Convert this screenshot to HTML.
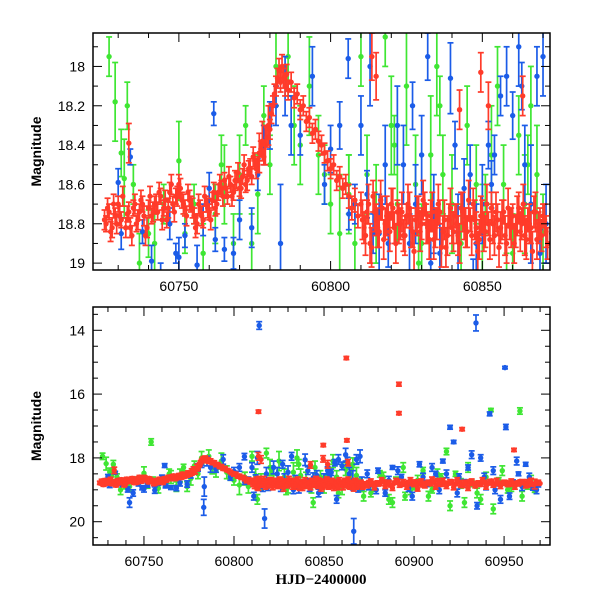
<!DOCTYPE html>
<html><head><meta charset="utf-8"><style>
html,body{margin:0;padding:0;background:#fff;}
svg{display:block;font-family:"Liberation Sans",sans-serif;}
text{fill:#000;}
</style></head><body>
<svg id="chart" width="600" height="600" viewBox="0 0 600 600">
<defs>
<clipPath id="clipTop"><rect x="93" y="33" width="457" height="237"/></clipPath>
<clipPath id="clipBot"><rect x="93" y="307" width="457" height="238"/></clipPath>
</defs>
<g id="top"></g>
<g id="bot"></g>
</svg>
<script>
const redT=[60726,60727,60728,60729,60730,60731,60733.5,60733,60734,60735,60736,60737,60738,60739,60740,60741,60742,60743,60744,60745,60746,60747,60748,60749,60750,60751,60752,60753,60754,60755,60756,60757,60758,60759,60760,60761,60762,60763,60764,60765,60766,60767,60768,60769,60770,60771,60772,60773,60774,60775,60776,60777,60778,60779,60780,60780.5,60781,60781.5,60782,60782.5,60783,60783.5,60784,60784.5,60785,60785.5,60786,60787,60788,60789,60790,60791,60792,60793,60794,60795,60796,60797,60798,60799,60800,60801,60802,60803,60804,60805,60806,60807,60808,60809,60810,60811,60812,60813,60814,60815,60816,60817,60818,60819,60820,60821,60822,60823,60824,60825,60826,60827,60828,60829,60830,60831,60832,60833,60834,60835,60836,60837,60838,60839,60840,60841,60842,60843,60844,60845,60846,60847,60848,60849,60850,60851,60852,60853,60854,60855,60856,60857,60858,60859,60860,60861,60862,60863,60864,60865,60866,60867,60868,60869,60870,60871,60813.6,60815,60842.5,60849.5,60852,60863.3,60873,60875,60877,60879,60881,60883,60885,60887,60889,60891,60893,60895,60897,60899,60901,60903,60905,60907,60909,60911,60913,60915,60917,60919,60921,60923,60925,60927,60929,60931,60933,60935,60937,60939,60941,60943,60945,60947,60949,60951,60953,60955,60957,60959,60961,60963,60965,60967,60969,60813.6,60862.4,60891.6,60891.6,60926.7,60955.5,60862.7,60849.6];
const redM=[18.80,18.74,18.82,18.76,18.70,18.78,18.39,18.75,18.82,18.72,18.80,18.74,18.70,18.86,18.72,18.76,18.70,18.74,18.66,18.72,18.78,18.64,18.70,18.66,18.60,18.68,18.72,18.64,18.70,18.76,18.80,18.72,18.78,18.70,18.74,18.68,18.72,18.64,18.62,18.58,18.66,18.60,18.64,18.58,18.62,18.56,18.60,18.52,18.56,18.48,18.50,18.42,18.46,18.36,18.32,18.24,18.20,18.14,18.10,18.06,18.02,18.08,18.00,18.06,18.10,18.04,18.12,18.08,18.16,18.14,18.22,18.20,18.28,18.26,18.34,18.32,18.38,18.40,18.44,18.48,18.52,18.50,18.58,18.56,18.62,18.60,18.66,18.72,18.68,18.76,18.70,18.82,18.74,18.90,18.66,18.78,18.84,18.72,18.80,18.76,18.70,18.82,18.74,18.80,18.86,18.76,18.72,18.84,18.78,18.74,18.80,18.70,18.82,18.76,18.88,18.80,18.74,18.84,18.92,18.78,18.82,18.76,18.86,18.72,18.80,18.84,18.78,18.70,18.82,18.88,18.76,18.84,18.80,18.72,18.86,18.78,18.82,18.74,18.90,18.80,18.76,18.84,18.72,18.80,18.86,18.78,18.82,18.74,18.88,18.80,18.76,18.84,17.95,18.05,18.22,18.03,18.20,18.15,18.80,18.76,18.84,18.78,18.82,18.74,18.80,18.86,18.78,18.72,18.84,18.80,18.76,18.82,18.74,18.80,18.86,18.78,18.82,18.76,18.70,18.84,18.78,18.80,18.74,18.82,18.76,18.88,18.80,18.74,18.82,18.78,18.84,18.76,18.80,18.72,18.82,18.78,18.80,18.76,18.84,18.78,18.80,18.74,18.78,18.80,18.76,18.82,18.78,16.55,14.87,15.69,16.60,17.10,17.75,17.45,17.60];
const redE=[0.04,0.04,0.05,0.04,0.04,0.04,0.1,0.04,0.05,0.04,0.04,0.04,0.04,0.05,0.04,0.04,0.04,0.04,0.04,0.04,0.04,0.05,0.04,0.04,0.05,0.04,0.04,0.04,0.04,0.04,0.05,0.04,0.04,0.04,0.04,0.04,0.04,0.04,0.04,0.04,0.04,0.04,0.04,0.04,0.04,0.04,0.04,0.04,0.04,0.04,0.04,0.04,0.04,0.05,0.05,0.05,0.05,0.05,0.05,0.05,0.06,0.05,0.06,0.05,0.05,0.05,0.05,0.05,0.05,0.05,0.05,0.05,0.05,0.05,0.05,0.05,0.05,0.05,0.05,0.05,0.05,0.05,0.05,0.05,0.05,0.05,0.06,0.06,0.06,0.06,0.06,0.08,0.06,0.1,0.08,0.08,0.08,0.06,0.08,0.06,0.08,0.08,0.06,0.08,0.08,0.06,0.08,0.08,0.06,0.08,0.08,0.06,0.08,0.08,0.1,0.08,0.06,0.08,0.1,0.08,0.08,0.06,0.1,0.08,0.08,0.08,0.06,0.08,0.08,0.1,0.08,0.08,0.06,0.08,0.1,0.08,0.08,0.06,0.1,0.08,0.06,0.08,0.08,0.08,0.1,0.06,0.08,0.08,0.1,0.08,0.06,0.08,0.12,0.12,0.1,0.1,0.12,0.1,0.05,0.05,0.05,0.05,0.05,0.05,0.05,0.05,0.05,0.05,0.05,0.05,0.05,0.05,0.05,0.05,0.05,0.05,0.05,0.05,0.05,0.05,0.05,0.05,0.05,0.05,0.05,0.05,0.05,0.05,0.05,0.05,0.05,0.05,0.05,0.05,0.05,0.05,0.05,0.05,0.05,0.05,0.05,0.05,0.05,0.12,0.12,0.15,0.08,0.05,0.05,0.06,0.05];

const redLateT=[60810.5,60811.5,60812.5,60813.5,60814.5,60815.5,60816.5,60817.5,60818.5,60819.5,60820.5,60821.5,60822.5,60823.5,60824.5,60825.5,60826.5,60827.5,60828.5,60829.5,60830.5,60831.5,60832.5,60833.5,60834.5,60835.5,60836.5,60837.5,60838.5,60839.5,60840.5,60841.5,60842.5,60843.5,60844.5,60845.5,60846.5,60847.5,60848.5,60849.5,60850.5,60851.5,60852.5,60853.5,60854.5,60855.5,60856.5,60857.5,60858.5,60859.5,60860.5,60861.5,60862.5,60863.5,60864.5,60865.5,60866.5,60867.5,60868.5,60869.5,60870.5,60871.5];
const redLateM=[18.78,18.86,18.70,18.92,18.74,18.82,18.68,18.88,18.76,18.84,18.72,18.90,18.80,18.74,18.86,18.70,18.82,18.94,18.76,18.84,18.68,18.80,18.88,18.74,18.82,18.70,18.92,18.78,18.86,18.72,18.84,18.80,18.90,18.74,18.82,18.68,18.86,18.78,18.94,18.76,18.84,18.70,18.88,18.80,18.74,18.92,18.78,18.86,18.72,18.82,18.90,18.76,18.84,18.70,18.88,18.80,18.94,18.74,18.82,18.86,18.78,18.90];
const redEarlyT=[60725.5,60726.5,60727.5,60728.5,60729.5,60730.5,60731.5,60732.5,60733.5,60734.5,60735.5,60736.5,60737.5,60738.5,60739.5,60740.5,60741.5,60742.5,60743.5,60744.5,60745.5,60746.5,60747.5,60748.5,60749.5,60750.5,60751.5,60752.5,60753.5,60754.5,60755.5,60756.5,60757.5,60758.5,60759.5,60760.5,60761.5,60762.5,60763.5,60764.5,60765.5,60766.5,60767.5,60768.5,60769.5,60770.5,60771.5,60772.5,60773.5,60774.5,60775.5,60776.5,60777.5,60778.5,60779.5];
const redEarlyM=[18.78,18.72,18.84,18.70,18.80,18.76,18.66,18.82,18.74,18.86,18.70,18.78,18.68,18.76,18.82,18.66,18.74,18.70,18.64,18.78,18.68,18.72,18.60,18.74,18.66,18.62,18.70,18.76,18.68,18.72,18.82,18.70,18.76,18.66,18.72,18.78,18.64,18.70,18.60,18.66,18.62,18.56,18.66,18.58,18.54,18.62,18.50,18.58,18.52,18.46,18.52,18.44,18.38,18.40,18.30];
const redTailT=[60874,60876,60878,60880,60882,60884,60886,60888,60890,60892,60894,60896,60898,60900,60902,60904,60906,60908,60910,60912,60914,60916,60918,60920,60922,60924,60926,60928,60930,60932,60934,60936,60938,60940,60942,60944,60946,60948,60950,60952,60954,60956,60958,60960,60962,60964,60966,60968,60970];
const redTailM=[18.86,18.74,18.92,18.80,18.70,18.88,18.78,18.94,18.72,18.84,18.76,18.90,18.70,18.82,18.96,18.74,18.86,18.78,18.68,18.90,18.80,18.72,18.88,18.76,18.92,18.70,18.84,18.78,18.94,18.74,18.86,18.80,18.70,18.90,18.76,18.84,18.72,18.88,18.78,18.82,18.74,18.90,18.80,18.76,18.86,18.72,18.84,18.78,18.80];

const blueT=[60730,60731,60734,60738,60741,60744,60747,60749,60750,60752,60756,60758,60760,60761.5,60762,60765,60768,60770,60774,60776,60778,60780,60782,60783.5,60785,60787,60790,60794,60798,60800,60805.8,60806,60808,60810,60812,60813,60814,60816,60818,60822,60824,60826,60828,60830,60832,60834,60836,60839.5,60842,60844,60846,60848,60850,60852,60854,60856,60858,60860,60862,60864,60866,60868,60870,60871,60875,60880,60884,60888,60893,60897,60903,60907,60912,60916,60920,60922,60925,60930,60934.4,60935,60937,60940,60942,60945,60950.5,60951,60953,60955,60958,60962,60966,60969,60814,60817,60866.5,60742,60783.2];
const blueM=[18.59,18.85,18.46,18.84,18.99,19.10,18.80,18.95,18.97,18.86,19.01,18.78,18.62,18.24,18.88,18.93,18.95,18.78,18.82,18.55,18.40,18.30,18.20,18.90,18.10,18.30,18.35,18.05,18.60,18.42,17.96,18.75,18.70,18.30,18.65,18.00,18.85,18.85,18.50,18.30,18.50,18.90,18.70,18.45,17.95,18.75,18.95,18.06,18.85,18.62,18.55,18.90,18.70,18.40,18.45,18.15,18.05,18.25,17.90,18.50,18.70,18.05,17.95,18.80,18.90,18.40,19.10,18.30,18.60,18.95,18.20,18.80,18.50,18.10,17.04,17.50,18.60,18.30,13.77,19.50,18.00,18.90,16.62,19.00,15.17,17.03,19.20,18.75,18.50,18.20,18.95,18.85,13.85,19.90,20.30,19.40,19.55];
const blueE=[0.07,0.08,0.04,0.06,0.08,0.1,0.08,0.05,0.1,0.06,0.1,0.08,0.08,0.06,0.06,0.06,0.08,0.1,0.1,0.08,0.1,0.12,0.1,0.3,0.15,0.15,0.1,0.15,0.1,0.12,0.1,0.08,0.1,0.15,0.12,0.2,0.1,0.2,0.2,0.2,0.2,0.15,0.2,0.2,0.12,0.2,0.15,0.18,0.2,0.15,0.15,0.2,0.2,0.12,0.1,0.1,0.15,0.12,0.2,0.2,0.3,0.15,0.2,0.2,0.1,0.08,0.1,0.06,0.08,0.1,0.08,0.1,0.08,0.06,0.06,0.05,0.1,0.08,0.25,0.1,0.1,0.1,0.06,0.12,0.04,0.08,0.1,0.06,0.06,0.06,0.06,0.06,0.12,0.3,0.4,0.15,0.25];
const blueExtraT=[60803,60811,60819,60827,60833,60841,60847,60853,60857,60863,60869,60874,60879,60886,60891,60899,60905,60910,60914,60918,60924,60928,60932,60939,60944,60948,60957,60960,60964,60968];
const blueExtraM=[18.3,19.2,18.9,18.2,19.0,18.4,19.1,18.6,19.3,18.1,18.95,18.5,19.0,18.7,18.4,19.2,18.6,18.3,19.0,18.5,19.1,18.8,17.9,18.6,18.4,19.3,18.1,18.9,18.6,19.0];

const greenT=[60727,60729,60731,60732,60733,60735,60737,60740,60745,60750,60752,60755,60758,60762,60765,60768,60770,60772,60774,60776,60778,60780,60782,60786,60788,60790,60793,60796,60798,60800,60803,60806,60808,60810,60812,60815,60818,60820,60822,60825,60828,60830,60833,60835,60837,60840,60843,60845,60848,60850,60853,60855,60857,60860,60862,60864,60866,60868,60870,60876,60881,60886,60890,60895,60900,60905,60910,60915,60918,60923,60928,60932,60937,60942.7,60947,60952,60958.8,60963,60967,60754];
const greenM=[17.95,18.18,18.44,18.57,18.20,18.60,19.00,18.85,18.70,18.48,18.85,18.70,18.95,18.75,18.60,18.90,18.55,18.30,18.90,18.65,18.25,18.50,18.00,17.95,18.30,18.40,18.10,18.45,18.55,18.70,18.85,18.65,18.90,17.95,18.55,18.75,17.85,18.30,18.70,18.10,18.60,18.90,18.45,18.00,18.55,18.70,18.90,18.30,18.60,18.85,18.45,18.10,18.60,18.95,18.35,18.70,18.20,18.55,18.85,19.10,18.50,19.30,18.70,19.20,18.90,18.40,19.00,18.60,17.80,18.50,19.40,18.80,19.30,16.50,18.70,19.00,16.53,18.90,19.00,17.50];
const greenE=[0.1,0.2,0.12,0.2,0.12,0.1,0.15,0.12,0.1,0.2,0.1,0.1,0.15,0.15,0.2,0.15,0.2,0.1,0.15,0.2,0.15,0.15,0.2,0.2,0.2,0.2,0.25,0.2,0.15,0.15,0.3,0.2,0.2,0.15,0.2,0.25,0.15,0.25,0.2,0.3,0.25,0.2,0.3,0.25,0.2,0.25,0.2,0.2,0.2,0.25,0.25,0.2,0.2,0.2,0.2,0.25,0.2,0.25,0.2,0.12,0.1,0.15,0.1,0.12,0.1,0.1,0.1,0.1,0.1,0.08,0.15,0.1,0.15,0.05,0.08,0.1,0.1,0.08,0.08,0.1];
const greenExtraT=[60806,60813,60821,60829,60836,60844,60851,60858,60865,60872,60878,60883,60888,60894,60898,60902,60908,60913,60920,60926,60930,60935,60940,60944,60949,60954,60960,60965,60742,60764];
const greenExtraM=[18.6,19.3,18.4,19.0,18.2,19.4,18.7,19.1,18.5,19.2,18.9,18.6,19.4,18.3,19.0,18.7,19.2,18.5,19.5,18.8,18.3,19.1,18.6,19.6,18.4,18.9,19.2,18.7,18.9,18.5];

const topXTicks=[60750,60800,60850];
const topYTicks=[18,18.2,18.4,18.6,18.8,19];
const botXTicks=[60750,60800,60850,60900,60950];
const botYTicks=[14,16,18,20];

const NS="http://www.w3.org/2000/svg";
function mk(tag,attrs,parent){const e=document.createElementNS(NS,tag);for(const k in attrs)e.setAttribute(k,attrs[k]);parent.appendChild(e);return e;}
function constErr(arr,v){return arr.map(()=>v);}

function panel(g,cfg){
  const {x0,x1,y0,y1,t0,t1,m0,m1,clip}=cfg;
  const sx=t=>x0+(t-t0)/(t1-t0)*(x1-x0);
  const sy=m=>y0+(m-m0)/(m1-m0)*(y1-y0);
  const data=mk('g',{'clip-path':'url(#'+clip+')'},g);
  
  
  const series=[
    [greenT.concat(greenExtraT),greenM.concat(greenExtraM),greenE.concat(constErr(greenExtraT,0.15)),'#3fe633','green'],
    [blueT.concat(blueExtraT),blueM.concat(blueExtraM),blueE.concat(constErr(blueExtraT,0.12)),'#1b5ce8','blue'],
    [redT.concat(redEarlyT,redLateT,redTailT),redM.concat(redEarlyM,redLateM,redTailM),redE.concat(constErr(redEarlyT,0.05),constErr(redLateT,0.1),constErr(redTailT,0.08)),'#ff3b2a','red']];
  series.forEach(([T,M,E,c,nm])=>{
    const sg=mk('g',{stroke:c,fill:c,'stroke-width':1.7},data);
    
    
    for(let i=0;i<T.length;i++){
      const x=sx(T[i]),y=sy(M[i]),ya=sy(M[i]-E[i]),yb=sy(M[i]+E[i]);
      const p=mk('g',{},sg);
      
      
      mk('line',{x1:x,x2:x,y1:ya,y2:yb},p);
      mk('line',{x1:x-3,x2:x+3,y1:ya,y2:ya},p);
      mk('line',{x1:x-3,x2:x+3,y1:yb,y2:yb},p);
      mk('circle',{cx:x,cy:y,r:2.7,stroke:'none'},p);
    }
  });
  const ax=mk('g',{stroke:'#000','stroke-width':1.5,fill:'none'},g);
  
  
  mk('rect',{x:x0,y:y0,width:x1-x0,height:y1-y0},ax);
  const lo=Math.ceil(t0/cfg.xmin)*cfg.xmin;
  for(let t=lo;t<=t1;t+=cfg.xmin){
    const major=Math.abs(t/cfg.xmaj-Math.round(t/cfg.xmaj))<1e-6;const L=major?9:5;const x=sx(t);
    mk('line',{x1:x,x2:x,y1:y1,y2:y1-L,'stroke-width':1},ax);
    mk('line',{x1:x,x2:x,y1:y0,y2:y0+L,'stroke-width':1},ax);
  }
  const nlo=Math.ceil(m0/cfg.ymin-1e-6);
  for(let k=nlo;k*cfg.ymin<=m1+1e-9;k++){
    const m=k*cfg.ymin;const major=Math.abs(m/cfg.ymaj-Math.round(m/cfg.ymaj))<1e-6;const L=major?9:5;const y=sy(m);
    mk('line',{x1:x0,x2:x0+L,y1:y,y2:y,'stroke-width':1},ax);
    mk('line',{x1:x1,x2:x1-L,y1:y,y2:y,'stroke-width':1},ax);
  }
  cfg.xt.forEach(t=>{const e=mk('text',{x:sx(t),y:y1+21,'text-anchor':'middle','font-size':14},g);e.textContent=String(t);
    
    });
  cfg.yt.forEach(m=>{const e=mk('text',{x:x0-8,y:sy(m)+5,'text-anchor':'end','font-size':14},g);e.textContent=String(m);
    
    });
  const yl=mk('text',{x:0,y:0,transform:'translate('+(x0-52)+','+((y0+y1)/2)+') rotate(-90)','text-anchor':'middle','font-size':14,'font-weight':'bold'},g);
  yl.textContent='Magnitude';
  
  
}
panel(document.getElementById('top'),{x0:93,x1:550,y0:33,y1:270,t0:60721.7,t1:60872.3,m0:17.83,m1:19.035,clip:'clipTop',xmin:10,xmaj:50,ymin:0.1,ymaj:0.2,xt:topXTicks,yt:topYTicks});
panel(document.getElementById('bot'),{x0:93,x1:550,y0:307,y1:545,t0:60721.7,t1:60975.5,m0:13.27,m1:20.73,clip:'clipBot',xmin:10,xmaj:50,ymin:0.5,ymaj:2,xt:botXTicks,yt:botYTicks});
const xl=mk('text',{x:321,y:584,'text-anchor':'middle','font-size':15,'font-family':'Liberation Serif, serif','font-weight':'bold'},document.getElementById('chart'));
xl.textContent='HJD\u22122400000';


</script>
</body></html>
